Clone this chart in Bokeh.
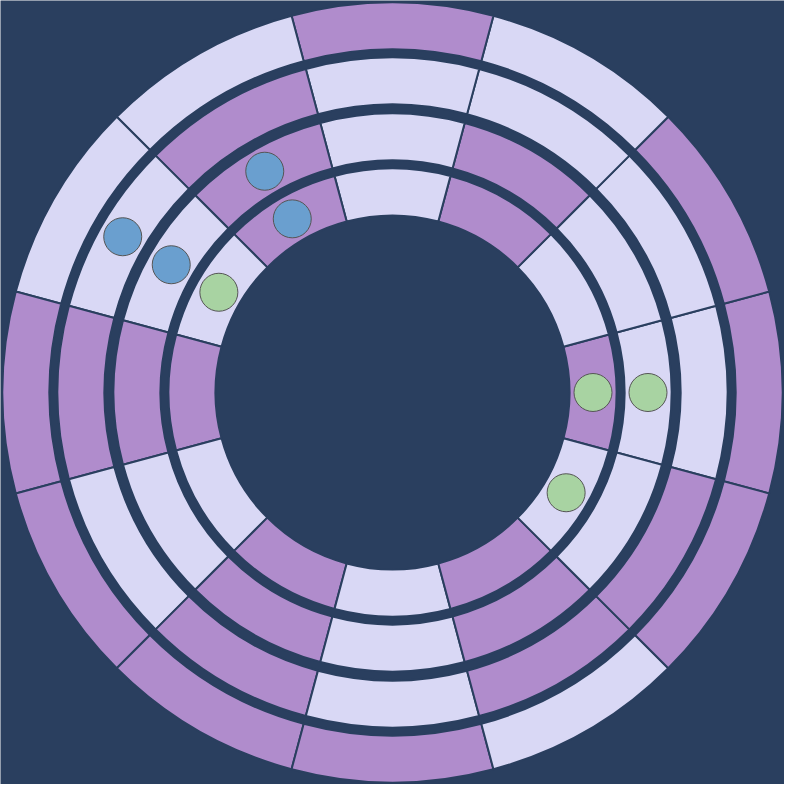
import numpy as np
from bokeh.plotting import figure
from bokeh.models import ColumnDataSource, Range1d
from bokeh.embed import file_html
from bokeh.resources import INLINE

# segment centres (degrees, counter-clockwise from the right), 12 sectors of 30 deg
sector_angles = [0, 30, 60, 90, 120, 150, 180, 210, 240, 270, 300, 330]

# state of each sector per ring, inner ring first: "H" = high (purple), "L" = low (lavender)
ring1 = ["H", "L", "H", "L", "H", "L", "H", "L", "H", "L", "H", "L"]
ring2 = ["L", "L", "H", "L", "H", "L", "H", "L", "H", "L", "H", "L"]
ring3 = ["L", "L", "L", "L", "H", "L", "H", "L", "H", "L", "H", "H"]
ring4 = ["H", "H", "L", "H", "L", "L", "H", "H", "H", "H", "L", "H"]
rings = [ring1, ring2, ring3, ring4]

# markers: ring number (1 = inner), sector angle, group
dot_ring = [2, 1, 3, 2, 1, 1, 2, 1]
dot_angle = [120, 120, 150, 150, 150, 0, 0, 330]
dot_group = ["blue", "blue", "blue", "blue", "green", "green", "green", "green"]

BG = "#2a3f5f"
colors = {"H": "#b08ccc", "L": "#d9d8f5"}
dot_colors = {"blue": "#6a9fcf", "green": "#a8d3a2"}

ring_inner = [178, 233, 289, 344]
ring_outer = [223, 278, 334, 389]

p = figure(width=784, height=784, output_backend="svg", toolbar_location=None,
           x_range=Range1d(-392, 392), y_range=Range1d(-392, 392),
           min_border=0, tools="")
p.background_fill_color = BG
p.border_fill_color = BG
p.outline_line_color = None
p.axis.visible = False
p.grid.visible = False

for i, ring in enumerate(rings):
    src = ColumnDataSource(dict(
        x=[0] * len(sector_angles),
        y=[0] * len(sector_angles),
        start=[a - 15 for a in sector_angles],
        end=[a + 15 for a in sector_angles],
        color=[colors[s] for s in ring],
    ))
    p.annular_wedge(x="x", y="y", inner_radius=ring_inner[i] - 1, outer_radius=ring_outer[i] + 1,
                    start_angle="start", end_angle="end", start_angle_units="deg",
                    end_angle_units="deg", fill_color="color", line_color=BG, line_width=2,
                    source=src)

ring_mid = [(a + b) / 2 for a, b in zip(ring_inner, ring_outer)]
r = np.array([ring_mid[k - 1] for k in dot_ring])
th = np.radians(dot_angle)
dots = ColumnDataSource(dict(x=r * np.cos(th), y=r * np.sin(th),
                             color=[dot_colors[g] for g in dot_group]))
p.circle(x="x", y="y", radius=19, fill_color="color", line_color="#555555",
         line_width=1, source=dots)

open("out.html", "w").write(file_html(p, INLINE))
